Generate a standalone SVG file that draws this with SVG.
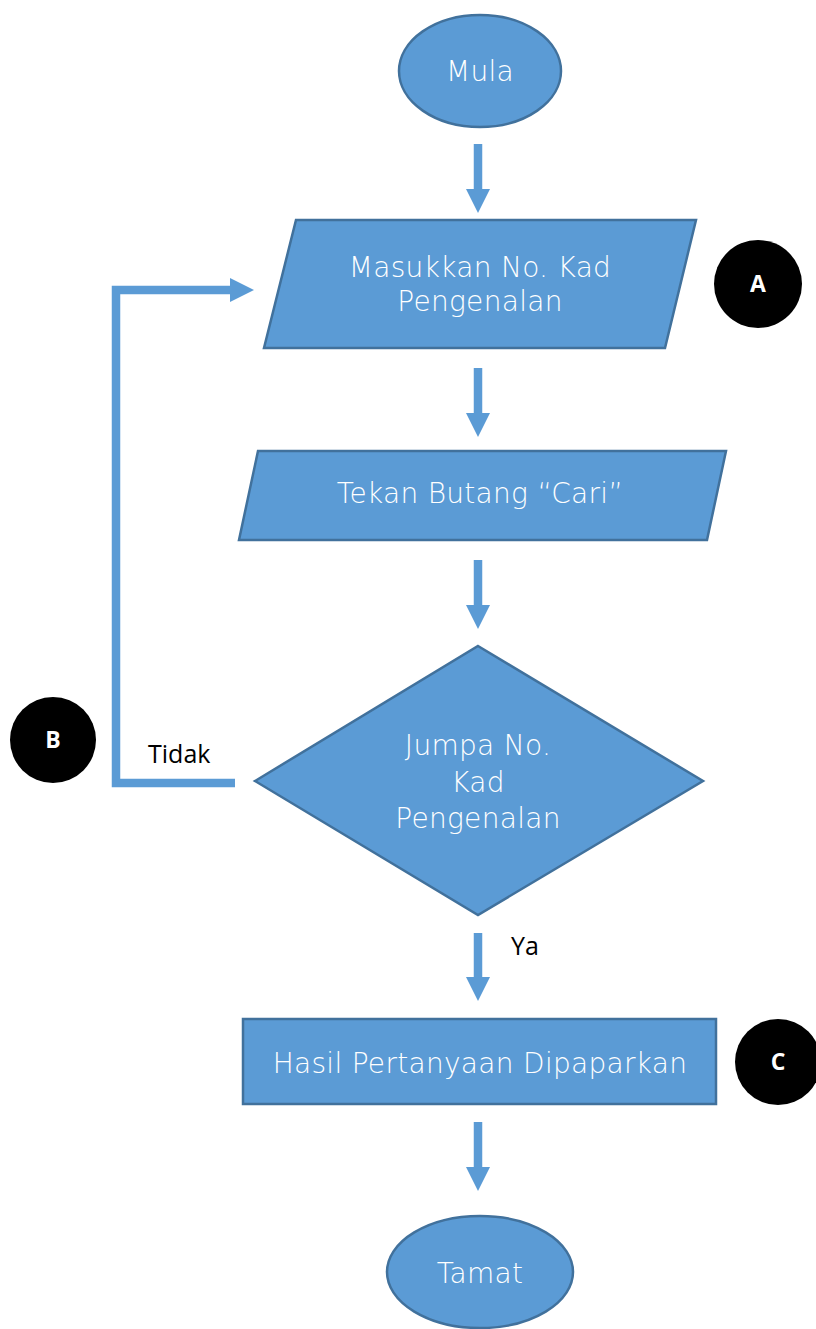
<svg xmlns="http://www.w3.org/2000/svg" width="816" height="1329" viewBox="0 0 816 1329">
<style>
.shape{fill:#5B9BD5;stroke:#41719C;stroke-width:2.5}
.lbl{fill:#FFFFFF;font-family:"DejaVu Sans","Open Sans",sans-serif;font-weight:200;font-size:28px;text-anchor:middle;letter-spacing:0.3px}
.conn{fill:none;stroke:#5B9BD5;stroke-width:8.5}
.note{fill:#000;font-family:"Open Sans","Noto Sans",sans-serif;font-size:25px}
.badge{fill:#000}
.btxt{fill:#FFF;font-family:"Open Sans","Noto Sans",sans-serif;font-weight:bold;font-size:23px;text-anchor:middle}
</style>
<defs>
<marker id="ah" markerUnits="userSpaceOnUse" markerWidth="24" markerHeight="24" viewBox="0 0 24 24" refX="0" refY="12" orient="auto">
<path d="M0,0 L24,12 L0,24 z" fill="#5B9BD5"/>
</marker>
</defs>
<g id="connectors">
<line class="conn" x1="478" y1="144" x2="478" y2="189" marker-end="url(#ah)"/>
<line class="conn" x1="478" y1="368" x2="478" y2="413" marker-end="url(#ah)"/>
<line class="conn" x1="478" y1="560" x2="478" y2="605" marker-end="url(#ah)"/>
<line class="conn" x1="478" y1="933" x2="478" y2="977" marker-end="url(#ah)"/>
<line class="conn" x1="478" y1="1122" x2="478" y2="1167" marker-end="url(#ah)"/>
<polyline class="conn" points="235,783 116,783 116,290 230,290" marker-end="url(#ah)"/>
<text class="note" x="148" y="763">Tidak</text>
<text class="note" x="511" y="955">Ya</text>
</g>
<g id="mula">
<ellipse class="shape" cx="480" cy="71" rx="81" ry="56"/>
<text class="lbl" x="480" y="81">Mula</text>
</g>
<g id="masukkan">
<polygon class="shape" points="296,220 696,220 665,348 264,348"/>
<text class="lbl" x="480" y="277">Masukkan No. Kad</text>
<text class="lbl" x="480" y="311">Pengenalan</text>
</g>
<g id="tekan">
<polygon class="shape" points="258,451 726,451 707,540 239,540"/>
<text class="lbl" x="480" y="503">Tekan Butang “Cari”</text>
</g>
<g id="jumpa">
<polygon class="shape" points="478,646 703,781 478,915 255,781"/>
<text class="lbl" x="478" y="755">Jumpa No.</text>
<text class="lbl" x="478" y="792">Kad</text>
<text class="lbl" x="478" y="828">Pengenalan</text>
</g>
<g id="hasil">
<rect class="shape" x="243" y="1019" width="473" height="85"/>
<text class="lbl" x="480" y="1073">Hasil Pertanyaan Dipaparkan</text>
</g>
<g id="tamat">
<ellipse class="shape" cx="480" cy="1272" rx="93" ry="56"/>
<text class="lbl" x="480" y="1283">Tamat</text>
</g>
<g id="badgeA">
<circle class="badge" cx="758" cy="284" r="44"/>
<text class="btxt" x="758" y="292">A</text>
</g>
<g id="badgeB">
<circle class="badge" cx="53" cy="740" r="43"/>
<text class="btxt" x="53" y="748">B</text>
</g>
<g id="badgeC">
<circle class="badge" cx="778" cy="1062" r="43"/>
<text class="btxt" x="778" y="1070">C</text>
</g>
</svg>
